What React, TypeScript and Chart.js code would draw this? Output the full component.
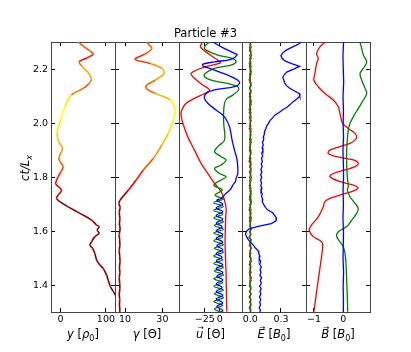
import React, { useEffect, useRef } from "react";
import { Chart, registerables } from "chart.js";

Chart.register(...registerables);

const W = 411;
const H = 352;
const TOP = 42;
const BOTTOM = 312;
const FONT = '"DejaVu Sans", "Noto Sans", sans-serif';
const TICK_SIZE = 9.5;
const LABEL_SIZE = 11.5;
const X_AXIS_H = 24;
const Y_AXIS_W = 44;

const T_MIN = 1.304;
const T_MAX = 2.3;
const timeTicks = [1.4, 1.6, 1.8, 2.0, 2.2];

// Panel 1: particle y position
const posTime = [2.300, 2.277, 2.265, 2.255, 2.241, 2.227, 2.211, 2.189, 2.162, 2.145, 2.129, 2.104, 2.061, 2.012, 1.964, 1.938, 1.920, 1.909, 1.894, 1.872, 1.857, 1.840, 1.821, 1.803, 1.787, 1.776, 1.754, 1.735, 1.723, 1.711, 1.692, 1.668, 1.643, 1.625, 1.619, 1.606, 1.594, 1.582, 1.563, 1.551, 1.539, 1.520, 1.496, 1.477, 1.465, 1.440, 1.422, 1.397, 1.379, 1.363, 1.330, 1.300];
const posValues = [39, 56, 66, 72, 58, 41, 47, 60, 68, 62, 50, 24, 9.5, 0, -7.5, -5.3, 0, 4.4, 1.8, -3.8, -0.4, 5.7, 0.7, -5.3, -9.3, -10.4, 2.2, -5.3, -8.8, -1.5, 16.8, 42.6, 68.4, 79.5, 85, 81, 85, 75.7, 68.4, 64.7, 70.6, 75.7, 79.5, 86.8, 94, 101.5, 105, 110, 116.5, 122, 135, 145];

// Panel 2: gamma
const gammaTime = [2.300, 2.276, 2.255, 2.236, 2.221, 2.203, 2.184, 2.159, 2.141, 2.129, 2.110, 2.086, 2.049, 2.012, 1.963, 1.920, 1.871, 1.828, 1.791, 1.754, 1.717, 1.705, 1.690, 1.670, 1.650, 1.630, 1.610, 1.590, 1.570, 1.550, 1.530, 1.510, 1.490, 1.470, 1.450, 1.430, 1.410, 1.390, 1.370, 1.350, 1.330, 1.310, 1.300];
const gammaValues = [21.4, 24.3, 20.5, 15.4, 23.4, 29.7, 30.9, 26.1, 21.6, 21.3, 26.1, 34.1, 36.8, 35.9, 33.2, 29.7, 25.2, 19.8, 16.0, 11.8, 7.4, 6.7, 7.3, 6.9, 7.2, 7.0, 7.3, 6.9, 7.1, 7.2, 6.9, 7.1, 7.3, 7.0, 7.2, 6.9, 7.1, 7.2, 6.9, 7.1, 7.0, 7.2, 7.0];

// Panel 3: u components
const uxTime = [2.301, 2.282, 2.254, 2.233, 2.223, 2.208, 2.184, 2.166, 2.141, 2.123, 2.110, 2.092, 2.074, 2.049, 2.030, 2.001, 1.950, 1.901, 1.852, 1.815, 1.797, 1.779, 1.748, 1.717, 1.686, 1.650, 1.625, 1.563, 1.500, 1.440, 1.370, 1.305];
const uxValues = [-28.3, -32.2, -17, -3.3, 1, -25, -47.8, -42.2, -28.3, -17.2, -25.5, -42.2, -56.2, -63.3, -64.5, -61.7, -53.3, -42.2, -31.2, -20, -14.5, -8.8, 2.2, 7.8, 10.5, 9.8, 9.5, 8.8, 9.6, 10.5, 11, 11.7];

const uyTime = [2.301, 2.282, 2.270, 2.252, 2.239, 2.227, 2.215, 2.203, 2.184, 2.172, 2.159, 2.147, 2.135, 2.123, 2.104, 2.092, 2.074, 2.030, 1.994, 1.938, 1.914, 1.895, 1.877, 1.865, 1.846, 1.834, 1.815, 1.803, 1.791, 1.772, 1.754, 1.735,
  1.721, 1.707, 1.693, 1.679, 1.665, 1.651, 1.637, 1.623, 1.609, 1.595, 1.581, 1.567, 1.553, 1.539, 1.525, 1.511, 1.497, 1.483, 1.469, 1.455, 1.441, 1.427, 1.413, 1.399, 1.385, 1.371, 1.357, 1.343, 1.329, 1.315, 1.301];
const uyValues = [-17.2, -25.5, -22.8, -3.3, 21.7, 27.2, 18.8, -8.8, -24.5, -25.5, -14.5, 13.3, 30, 31.2, 21.7, 12.2, 7.8, 6.2, 6.7, 7.8, -3.3, -8.8, 2.2, 10.5, 2.2, -8.8, -0.5, 10.5, 2.2, -10, 4, -8,
  6, -10, 6, -10, 5, -10, 6, -9, 6, -10, 5, -10, 6, -9, 6, -10, 5, -10, 6, -9, 6, -10, 5, -10, 6, -9, 6, -10, 5, -9, 6];

const uzTime = [2.300, 2.281, 2.258, 2.252, 2.236, 2.227, 2.218, 2.211, 2.203, 2.178, 2.159, 2.147, 2.135, 2.123, 2.110, 2.092, 2.074, 2.049, 2.024, 1.987, 1.938, 1.901, 1.865, 1.815, 1.798, 1.785, 1.772, 1.757, 1.742, 1.723,
  1.716, 1.702, 1.688, 1.674, 1.660, 1.646, 1.632, 1.618, 1.604, 1.590, 1.576, 1.562, 1.548, 1.534, 1.520, 1.506, 1.492, 1.478, 1.464, 1.450, 1.436, 1.422, 1.408, 1.394, 1.380, 1.366, 1.352, 1.338, 1.324, 1.310, 1.300];
const uzValues = [-11.7, 3.3, 24.5, 28.8, 18.8, -8.8, -28.3, -27.5, -17.2, 13.3, 30, 32.8, 24.5, -8.8, -22.8, -25.5, -20, -6.2, 7.8, 16.2, 20.5, 24.5, 28.8, 30, 27.2, 26, 21.7, 18, 10.5, 2.2,
  -5, 5, -6, 5, -6, 5, -6, 4, -6, 5, -6, 5, -5, 5, -6, 4, -6, 5, -6, 5, -5, 5, -6, 4, -6, 5, -6, 5, -5, 5, 0];

// Panel 4: E components
const eTime = [2.30, 2.29, 2.28, 2.27, 2.26, 2.25, 2.24, 2.23, 2.22, 2.21, 2.20, 2.19, 2.18, 2.17, 2.16, 2.15, 2.14, 2.13, 2.12, 2.11, 2.10, 2.09, 2.08, 2.07, 2.06, 2.05, 2.04, 2.03, 2.02, 2.01, 2.00, 1.99, 1.98, 1.97, 1.96, 1.95, 1.94, 1.93, 1.92, 1.91, 1.90, 1.89, 1.88, 1.87, 1.86, 1.85, 1.84, 1.83, 1.82, 1.81, 1.80, 1.79, 1.78, 1.77, 1.76, 1.75, 1.74, 1.73, 1.72, 1.71, 1.70, 1.69, 1.68, 1.67, 1.66, 1.65, 1.64, 1.63, 1.62, 1.61, 1.60, 1.59, 1.58, 1.57, 1.56, 1.55, 1.54, 1.53, 1.52, 1.51, 1.50, 1.49, 1.48, 1.47, 1.46, 1.45, 1.44, 1.43, 1.42, 1.41, 1.40, 1.39, 1.38, 1.37, 1.36, 1.35, 1.34, 1.33, 1.32, 1.31, 1.30];
const exValues = [0.006, -0.004, 0.010, -0.008, 0.003, 0.012, -0.006, 0.002, -0.010, 0.007,
  -0.003, 0.011, -0.007, 0.004, -0.012, 0.008, 0.001, -0.005, 0.009, -0.009,
  0.005, -0.002, 0.012, -0.006, 0.003, -0.011, 0.007, 0.000, -0.008, 0.010,
  -0.004, 0.006, -0.010, 0.009, -0.001, 0.004, -0.007, 0.011, -0.005, 0.002,
  -0.009, 0.008, -0.003, 0.006, -0.012, 0.010, -0.002, 0.005, -0.008, 0.003,
  0.011, -0.006, 0.001, -0.010, 0.007, -0.004, 0.009, -0.007, 0.002, 0.012,
  -0.005, 0.004, -0.011, 0.006, -0.001, 0.010, -0.008, 0.003, -0.006, 0.009,
  -0.003, 0.007, -0.012, 0.005, 0.000, -0.009, 0.011, -0.004, 0.006, -0.007,
  0.002, 0.010, -0.010, 0.004, -0.002, 0.008, -0.006, 0.012, -0.005, 0.001,
  -0.008, 0.007, -0.003, 0.009, -0.011, 0.005, -0.001, 0.006, -0.009, 0.003, 0.004];
const eyValues = [-0.003, 0.005, -0.008, 0.002, 0.007, -0.005, 0.009, -0.002, 0.004, -0.009,
  0.006, -0.001, 0.008, -0.006, 0.003, -0.004, 0.010, -0.007, 0.001, 0.005,
  -0.008, 0.004, -0.002, 0.009, -0.005, 0.006, -0.010, 0.003, 0.007, -0.003,
  0.002, -0.007, 0.008, -0.004, 0.005, -0.001, 0.009, -0.006, 0.004, -0.008,
  0.007, -0.002, 0.003, -0.009, 0.006, 0.001, -0.005, 0.008, -0.003, 0.004,
  -0.007, 0.009, -0.004, 0.002, -0.006, 0.010, -0.001, 0.005, -0.008, 0.003,
  0.006, -0.005, 0.008, -0.002, 0.004, -0.009, 0.007, -0.003, 0.001, 0.006,
  -0.006, 0.003, -0.008, 0.009, -0.004, 0.005, -0.001, 0.007, -0.007, 0.002,
  0.008, -0.005, 0.004, -0.002, 0.006, -0.009, 0.003, -0.004, 0.009, -0.006,
  0.001, 0.005, -0.008, 0.007, -0.003, 0.004, -0.006, 0.008, -0.002, 0.003, -0.004];
const ezValues = [0.500, 0.462, 0.405, 0.352, 0.318, 0.300, 0.312, 0.338, 0.405, 0.482,
  0.425, 0.360, 0.334, 0.318, 0.328, 0.335, 0.352, 0.382, 0.428, 0.478,
  0.485, 0.455, 0.420, 0.392, 0.362, 0.318, 0.282, 0.240, 0.218, 0.192,
  0.178, 0.160, 0.152, 0.140, 0.138, 0.128, 0.131, 0.120, 0.127, 0.116,
  0.124, 0.112, 0.121, 0.110, 0.118, 0.108, 0.116, 0.104, 0.113, 0.102,
  0.112, 0.100, 0.111, 0.103, 0.114, 0.105, 0.116, 0.110, 0.122, 0.118,
  0.132, 0.148, 0.172, 0.218, 0.238, 0.256, 0.252, 0.205, 0.075, -0.015,
  -0.040, -0.046, -0.034, -0.018, 0.008, 0.032, 0.050, 0.078, 0.082, 0.094,
  0.088, 0.102, 0.092, 0.108, 0.096, 0.105, 0.094, 0.110, 0.098, 0.108,
  0.092, 0.106, 0.095, 0.104, 0.090, 0.102, 0.093, 0.100, 0.088, 0.098, 0.092];

// Panel 5: B components
const bxTime = [2.299, 2.282, 2.258, 2.239, 2.221, 2.184, 2.159, 2.135, 2.110, 2.086, 2.061, 2.024, 2.000, 1.981, 1.963, 1.950, 1.938, 1.926, 1.914, 1.901, 1.889, 1.877, 1.865, 1.852, 1.840, 1.828, 1.815, 1.803, 1.785, 1.772, 1.761, 1.750, 1.735, 1.723, 1.711, 1.692, 1.655, 1.625, 1.606, 1.582, 1.563, 1.545, 1.484, 1.422, 1.361, 1.305];
const bxValues = [-0.625, -0.795, -0.908, -0.853, -0.908, -0.966, -1.0, -0.853, -0.625, -0.341, -0.171, -0.089, -0.02, 0.171, 0.399, 0.457, 0.399, 0.229, -0.113, -0.454, -0.512, -0.225, 0.341, 0.512, 0.399, 0.058, -0.341, -0.454, -0.113, 0.341, 0.502, 0.331, -0.113, -0.454, -0.625, -0.683, -0.853, -1.078, -1.160, -1.024, -0.737, -0.703, -0.771, -0.853, -0.932, -1.0];
const byTime = [2.299, 2.276, 2.252, 2.227, 2.203, 2.184, 2.159, 2.129, 2.110, 2.086, 2.055, 2.024, 2.000, 1.975, 1.938, 1.901, 1.852, 1.803, 1.766, 1.754, 1.729, 1.705, 1.686, 1.668, 1.643, 1.619, 1.600, 1.582, 1.563, 1.545, 1.520, 1.484, 1.422, 1.361, 1.305];
const byValues = [0.57, 0.628, 0.683, 0.799, 0.683, 0.57, 0.628, 0.741, 0.799, 0.683, 0.512, 0.341, 0.229, 0.171, 0.137, 0.116, 0.116, 0.137, 0.171, 0.137, 0.229, 0.399, 0.512, 0.457, 0.287, 0.116, -0.171, -0.225, -0.113, 0, 0.058, 0.092, 0.116, 0.137, 0.150];
const bzTime = [2.30, 2.25, 2.20, 2.15, 2.10, 2.05, 2.00, 1.95, 1.90, 1.85, 1.80, 1.75, 1.70, 1.65, 1.60, 1.55, 1.50, 1.45, 1.40, 1.35, 1.30];
const bzValues = [0.01, -0.01, 0.0, 0.012, -0.008, 0.005, -0.004, 0.008, -0.01, 0.003, 0.009, -0.006, 0.004, -0.01, 0.006, 0.0, -0.007, 0.01, -0.003, 0.005, 0.0];

type Part = { t: string; it?: boolean; sub?: boolean; vec?: boolean };

function gammaAt(t: number): number {
  if (t >= gammaTime[0]) return gammaValues[0];
  for (let i = 1; i < gammaTime.length; i++) {
    if (t >= gammaTime[i]) {
      const t0 = gammaTime[i - 1];
      const t1 = gammaTime[i];
      const f = (t - t1) / (t0 - t1);
      return gammaValues[i] + f * (gammaValues[i - 1] - gammaValues[i]);
    }
  }
  return gammaValues[gammaValues.length - 1];
}

// matplotlib "hot" colormap driven by gamma
function hot(g: number): string {
  const s = Math.max(0, (g - 7) / 30);
  const x = Math.max(0, Math.min(1, 0.19 + 0.57 * Math.pow(s, 0.95)));
  const r = Math.min(1, 0.0416 + (1 - 0.0416) * x / 0.365);
  const gg = Math.max(0, Math.min(1, (x - 0.365) / (0.746 - 0.365)));
  const b = Math.max(0, Math.min(1, (x - 0.746) / (1 - 0.746)));
  return `rgb(${Math.round(r * 255)},${Math.round(gg * 255)},${Math.round(b * 255)})`;
}

function fmt(v: number, d: number): string {
  return (v < 0 ? "\u2212" : "") + Math.abs(v).toFixed(d);
}

function drawRich(ctx: CanvasRenderingContext2D, parts: Part[], cx: number, baseline: number, size: number) {
  const fontFor = (p: Part) => `${p.it ? "italic " : ""}${p.sub ? size * 0.7 : size}px ${FONT}`;
  const widths = parts.map((p) => {
    ctx.font = fontFor(p);
    return ctx.measureText(p.t).width;
  });
  const total = widths.reduce((a, b) => a + b, 0);
  let x = cx - total / 2;
  ctx.fillStyle = "#000";
  ctx.textBaseline = "alphabetic";
  parts.forEach((p, i) => {
    ctx.font = fontFor(p);
    ctx.textAlign = "left";
    ctx.fillText(p.t, x, p.sub ? baseline + size * 0.22 : baseline);
    if (p.vec) {
      ctx.font = `${size * 0.62}px ${FONT}`;
      ctx.textAlign = "center";
      ctx.fillText("\u2192", x + widths[i] / 2 + size * 0.1, baseline - size * 0.72);
    }
    x += widths[i];
  });
}

type Series = { time: number[]; values: number[]; color: string; order: number; tension: number; width: number };
type PanelDef = { left: number; right: number; min: number; max: number; ticks: number[]; dec: number; label: Part[]; series: Series[] };

const panels: PanelDef[] = [
  {
    left: 51, right: 115, min: -21, max: 120, ticks: [0, 100], dec: 0,
    label: [{ t: "y", it: true }, { t: " [" }, { t: "\u03C1", it: true }, { t: "0", sub: true }, { t: "]" }],
    series: [{ time: posTime, values: posValues, color: "hot", order: 1, tension: 0.35, width: 1.6 }],
  },
  {
    left: 115, right: 179, min: 4.6, max: 38.9, ticks: [10, 30], dec: 0,
    label: [{ t: "\u03B3", it: true }, { t: " [\u0398]" }],
    series: [{ time: gammaTime, values: gammaValues, color: "hot", order: 1, tension: 0.35, width: 1.6 }],
  },
  {
    left: 179, right: 242, min: -68, max: 37, ticks: [-25, 0], dec: 0,
    label: [{ t: "u", it: true, vec: true }, { t: " [\u0398]" }],
    series: [
      { time: uxTime, values: uxValues, color: "#ff0000", order: 3, tension: 0.35, width: 1.3 },
      { time: uyTime, values: uyValues, color: "#008000", order: 2, tension: 0.35, width: 1.3 },
      { time: uzTime, values: uzValues, color: "#0000ff", order: 1, tension: 0.35, width: 1.3 },
    ],
  },
  {
    left: 242, right: 306, min: -0.081, max: 0.545, ticks: [0, 0.3], dec: 1,
    label: [{ t: "E", it: true, vec: true }, { t: " [" }, { t: "B", it: true }, { t: "0", sub: true }, { t: "]" }],
    series: [
      { time: eTime, values: exValues, color: "#ff0000", order: 3, tension: 0, width: 1.3 },
      { time: eTime, values: eyValues, color: "#008000", order: 2, tension: 0, width: 1.3 },
      { time: eTime, values: ezValues, color: "#0000ff", order: 1, tension: 0, width: 1.3 },
    ],
  },
  {
    left: 306, right: 370, min: -1.27, max: 0.91, ticks: [-1, 0], dec: 0,
    label: [{ t: "B", it: true, vec: true }, { t: " [" }, { t: "B", it: true }, { t: "0", sub: true }, { t: "]" }],
    series: [
      { time: bxTime, values: bxValues, color: "#ff0000", order: 3, tension: 0.35, width: 1.3 },
      { time: byTime, values: byValues, color: "#008000", order: 2, tension: 0.35, width: 1.3 },
      { time: bzTime, values: bzValues, color: "#0000ff", order: 1, tension: 0.2, width: 1.3 },
    ],
  },
];

const AXIS_COLOR = "#444";
const TICK_LEN = -4;

function makeChart(canvas: HTMLCanvasElement, p: PanelDef, index: number): Chart {
  const gridOpts = { display: true, drawOnChartArea: false, drawTicks: true, tickLength: TICK_LEN, color: "#000", lineWidth: 1 };
  const borderOpts = { display: true, color: AXIS_COLOR, width: 1 };
  const xTicks = (scale: any) => {
    scale.ticks = p.ticks.map((v) => ({ value: v }));
  };
  const yTicks = (scale: any) => {
    scale.ticks = timeTicks.map((v) => ({ value: v }));
  };
  const datasets = p.series.map((s) => {
    const ds: any = {
      data: s.time.map((t, i) => ({ x: s.values[i], y: t })),
      borderColor: s.color === "hot" ? "#cc0000" : s.color,
      borderWidth: s.width,
      pointRadius: 0,
      tension: s.tension,
      fill: false,
      order: s.order,
      xAxisID: "x",
      yAxisID: "y",
    };
    if (s.color === "hot") {
      ds.segment = {
        borderColor: (ctx: any) => hot(gammaAt((ctx.p0.parsed.y + ctx.p1.parsed.y) / 2)),
      };
    }
    return ds;
  });

  const textPlugin = {
    id: "panelText" + index,
    afterDraw(chart: any) {
      const ctx: CanvasRenderingContext2D = chart.ctx;
      ctx.save();
      drawRich(ctx, p.label, (p.left + p.right) / 2, 338, LABEL_SIZE);
      if (index === 0) {
        ctx.font = `${LABEL_SIZE}px ${FONT}`;
        ctx.fillStyle = "#000";
        ctx.textAlign = "center";
        ctx.textBaseline = "alphabetic";
        ctx.fillText("Particle #3", W / 2, 37.3);
        ctx.save();
        ctx.translate(29, 168);
        ctx.rotate(-Math.PI / 2);
        drawRich(ctx, [{ t: "ct/L", it: true }, { t: "x", it: true, sub: true }], 0, 0, LABEL_SIZE);
        ctx.restore();
      }
      ctx.restore();
    },
  };

  const yW = index === 0 ? Y_AXIS_W : 0;

  return new Chart(canvas, {
    type: "line",
    data: { datasets },
    options: {
      responsive: false,
      animation: false,
      devicePixelRatio: 1,
      events: [],
      layout: { padding: { left: p.left - yW, right: W - p.right, top: TOP, bottom: H - BOTTOM - X_AXIS_H } },
      plugins: { legend: { display: false }, tooltip: { enabled: false }, title: { display: false } },
      scales: {
        x: {
          type: "linear", position: "bottom", min: p.min, max: p.max,
          afterBuildTicks: xTicks,
          afterFit: (s: any) => { s.height = X_AXIS_H; },
          ticks: { display: true, autoSkip: false, maxRotation: 0, minRotation: 0, padding: 6, color: "#000", font: { family: FONT, size: TICK_SIZE }, callback: (v: any) => fmt(Number(v), p.dec) },
          grid: gridOpts, border: borderOpts,
        },
        xt: {
          type: "linear", position: "top", min: p.min, max: p.max,
          afterBuildTicks: xTicks,
          afterFit: (s: any) => { s.height = 0; },
          ticks: { display: false },
          grid: gridOpts, border: borderOpts,
        },
        y: {
          type: "linear", position: "left", min: T_MIN, max: T_MAX,
          afterBuildTicks: yTicks,
          afterFit: (s: any) => { s.width = yW; },
          ticks: { display: index === 0, autoSkip: false, padding: 7, color: "#000", font: { family: FONT, size: TICK_SIZE }, callback: (v: any) => Number(v).toFixed(1) },
          grid: gridOpts, border: borderOpts,
        },
        yr: {
          type: "linear", position: "right", min: T_MIN, max: T_MAX,
          afterBuildTicks: yTicks,
          afterFit: (s: any) => { s.width = 0; },
          ticks: { display: false },
          grid: gridOpts, border: borderOpts,
        },
      },
    } as any,
    plugins: [textPlugin],
  });
}

export default function App() {
  const refs = useRef<(HTMLCanvasElement | null)[]>([]);
  useEffect(() => {
    const charts: Chart[] = [];
    panels.forEach((p, i) => {
      const c = refs.current[i];
      if (c) charts.push(makeChart(c, p, i));
    });
    return () => charts.forEach((c) => c.destroy());
  }, []);
  return (
    <div style={{ position: "absolute", left: 0, top: 0, width: W, height: H, background: "#fff" }}>
      {panels.map((_, i) => (
        <canvas
          key={i}
          ref={(el) => { refs.current[i] = el; }}
          width={W}
          height={H}
          style={{ position: "absolute", left: 0, top: 0, width: W, height: H }}
        />
      ))}
    </div>
  );
}
